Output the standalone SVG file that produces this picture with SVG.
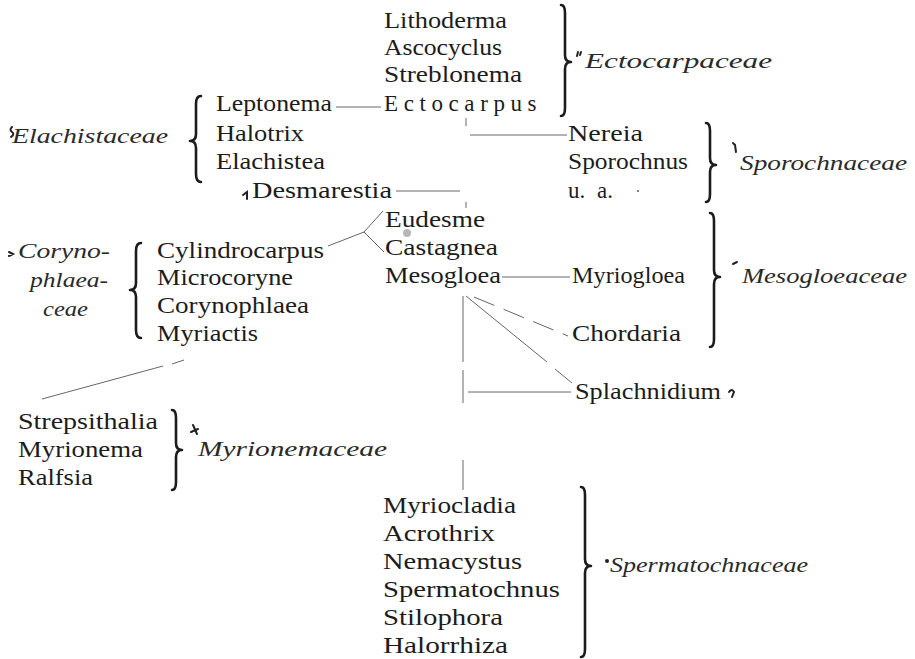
<svg xmlns="http://www.w3.org/2000/svg" width="915" height="659" viewBox="0 0 915 659">
<style>
.g{font-family:"Liberation Serif","Times New Roman",serif;font-size:23px;fill:#1c1c1c}
.f{font-family:"Liberation Serif","Times New Roman",serif;font-size:22px;font-style:italic;fill:#2a2a2a}
.br{fill:none;stroke:#1c1c1c;stroke-width:2.6;stroke-linecap:round;stroke-linejoin:round}
.c{fill:none;stroke:#666;stroke-width:1}
.m{fill:none;stroke:#222;stroke-width:2;stroke-linecap:round}
</style>
<rect width="915" height="659" fill="#fff"/>
<g id="connectors">
<line class="c" x1="336" y1="107" x2="381" y2="107"/>
<line class="c" x1="466" y1="118" x2="466" y2="126"/>
<line class="c" x1="470" y1="135" x2="567" y2="135"/>
<line class="c" x1="396" y1="191" x2="460" y2="191"/>
<line class="c" x1="466" y1="202" x2="466" y2="208"/>
<polyline class="c" points="328,246 364,232 383,211"/>
<line class="c" x1="364" y1="232" x2="384" y2="252"/>
<line class="c" x1="502" y1="277" x2="570" y2="277"/>
<line class="c" x1="463" y1="296" x2="463" y2="362"/>
<line class="c" x1="463" y1="370" x2="463" y2="403"/>
<line class="c" x1="468" y1="392" x2="571" y2="392"/>
<line class="c" x1="466" y1="296" x2="547" y2="362"/>
<line class="c" x1="555" y1="369" x2="572" y2="383"/>
<line class="c" x1="474" y1="297" x2="568" y2="336" stroke-dasharray="22 10"/>
<line class="c" x1="463" y1="460" x2="463" y2="490"/>
<line class="c" x1="184" y1="360" x2="172" y2="364"/>
<line class="c" x1="163" y1="366" x2="42" y2="399"/>
</g>
<g id="ectocarpaceae">
<path class="br" d="M561,5 Q565,5 565,13 L565,55 Q565,62 571,62 Q565,62 565,69 L565,108 Q565,116 561,116"/>
<text class="f" x="585" y="68" textLength="187" lengthAdjust="spacingAndGlyphs">Ectocarpaceae</text>
<g id="lithoderma"><text class="g" x="384" y="28" textLength="123" lengthAdjust="spacingAndGlyphs">Lithoderma</text></g>
<g id="ascocyclus"><text class="g" x="384" y="55" textLength="118" lengthAdjust="spacingAndGlyphs">Ascocyclus</text></g>
<g id="streblonema"><text class="g" x="384" y="82" textLength="138" lengthAdjust="spacingAndGlyphs">Streblonema</text></g>
<g id="ectocarpus"><text class="g" x="384" y="111" letter-spacing="5.6">Ectocarpus</text></g>
</g>
<g id="elachistaceae">
<path class="br" d="M201,96 Q196,96 196,104 L196,134 Q196,141 190,141 Q196,141 196,148 L196,174 Q196,182 201,182"/>
<text class="f" x="12" y="143" textLength="156" lengthAdjust="spacingAndGlyphs">Elachistaceae</text>
<g id="leptonema"><text class="g" x="216" y="111" textLength="116" lengthAdjust="spacingAndGlyphs">Leptonema</text></g>
<g id="halotrix"><text class="g" x="216" y="141" textLength="88" lengthAdjust="spacingAndGlyphs">Halotrix</text></g>
<g id="elachistea"><text class="g" x="216" y="169" textLength="109" lengthAdjust="spacingAndGlyphs">Elachistea</text></g>
</g>
<g id="desmarestia"><text class="g" x="252" y="198" textLength="140" lengthAdjust="spacingAndGlyphs">Desmarestia</text></g>
<g id="sporochnaceae">
<path class="br" d="M706,123 Q710,123 710,131 L710,158 Q710,165 716,165 Q710,165 710,172 L710,194 Q710,202 706,202"/>
<text class="f" x="740" y="170" textLength="167" lengthAdjust="spacingAndGlyphs">Sporochnaceae</text>
<g id="nereia"><text class="g" x="568" y="141" textLength="75" lengthAdjust="spacingAndGlyphs">Nereia</text></g>
<g id="sporochnus"><text class="g" x="568" y="169" textLength="120" lengthAdjust="spacingAndGlyphs">Sporochnus</text></g>
<g id="ua"><text class="g" y="198"><tspan x="568">u.</tspan><tspan x="597">a.</tspan></text><circle cx="638" cy="191" r="1" fill="#555"/></g>
</g>
<g id="mesogloeaceae">
<path class="br" d="M710,213 Q714,213 714,221 L714,270 Q714,277 720,277 Q714,277 714,284 L714,339 Q714,347 710,347"/>
<text class="f" x="742" y="283" textLength="165" lengthAdjust="spacingAndGlyphs">Mesogloeaceae</text>
<g id="eudesme"><text class="g" x="385" y="227" textLength="100" lengthAdjust="spacingAndGlyphs">Eudesme</text><circle cx="407" cy="233" r="4" fill="#999" opacity="0.7"/></g>
<g id="castagnea"><text class="g" x="385" y="255" textLength="113" lengthAdjust="spacingAndGlyphs">Castagnea</text></g>
<g id="mesogloea"><text class="g" x="385" y="283" textLength="116" lengthAdjust="spacingAndGlyphs">Mesogloea</text></g>
<g id="myriogloea"><text class="g" x="572" y="283" textLength="113" lengthAdjust="spacingAndGlyphs">Myriogloea</text></g>
<g id="chordaria"><text class="g" x="572" y="341" textLength="109" lengthAdjust="spacingAndGlyphs">Chordaria</text></g>
</g>
<g id="splachnidium"><text class="g" x="575" y="399" textLength="146" lengthAdjust="spacingAndGlyphs">Splachnidium</text></g>
<g id="corynophlaeaceae">
<path class="br" d="M141,243 Q136,243 136,251 L136,283 Q136,290 130,290 Q136,290 136,297 L136,330 Q136,338 141,338"/>
<text class="f" x="18" y="258" textLength="92" lengthAdjust="spacingAndGlyphs">Coryno-</text>
<text class="f" x="30" y="287" textLength="78" lengthAdjust="spacingAndGlyphs">phlaea-</text>
<text class="f" x="43" y="316" textLength="45" lengthAdjust="spacingAndGlyphs">ceae</text>
<g id="cylindrocarpus"><text class="g" x="157" y="258" textLength="167" lengthAdjust="spacingAndGlyphs">Cylindrocarpus</text></g>
<g id="microcoryne"><text class="g" x="157" y="285" textLength="136" lengthAdjust="spacingAndGlyphs">Microcoryne</text></g>
<g id="corynophlaea"><text class="g" x="157" y="313" textLength="152" lengthAdjust="spacingAndGlyphs">Corynophlaea</text></g>
<g id="myriactis"><text class="g" x="157" y="341" textLength="101" lengthAdjust="spacingAndGlyphs">Myriactis</text></g>
</g>
<g id="myrionemaceae">
<path class="br" d="M172,410 Q176,410 176,418 L176,443 Q176,450 182,450 Q176,450 176,457 L176,482 Q176,490 172,490"/>
<text class="f" x="198" y="456" textLength="189" lengthAdjust="spacingAndGlyphs">Myrionemaceae</text>
<g id="strepsithalia"><text class="g" x="18" y="429" textLength="140" lengthAdjust="spacingAndGlyphs">Strepsithalia</text></g>
<g id="myrionema"><text class="g" x="18" y="457" textLength="125" lengthAdjust="spacingAndGlyphs">Myrionema</text></g>
<g id="ralfsia"><text class="g" x="18" y="485" textLength="75" lengthAdjust="spacingAndGlyphs">Ralfsia</text></g>
</g>
<g id="spermatochnaceae">
<path class="br" d="M581,487 Q585,487 585,495 L585,559 Q585,566 591,566 Q585,566 585,573 L585,649 Q585,657 581,657"/>
<text class="f" x="610" y="572" textLength="198" lengthAdjust="spacingAndGlyphs">Spermatochnaceae</text>
<g id="myriocladia"><text class="g" x="383" y="513" textLength="133" lengthAdjust="spacingAndGlyphs">Myriocladia</text></g>
<g id="acrothrix"><text class="g" x="383" y="541" textLength="112" lengthAdjust="spacingAndGlyphs">Acrothrix</text></g>
<g id="nemacystus"><text class="g" x="383" y="569" textLength="139" lengthAdjust="spacingAndGlyphs">Nemacystus</text></g>
<g id="spermatochnus"><text class="g" x="383" y="597" textLength="177" lengthAdjust="spacingAndGlyphs">Spermatochnus</text></g>
<g id="stilophora"><text class="g" x="383" y="625" textLength="120" lengthAdjust="spacingAndGlyphs">Stilophora</text></g>
<g id="halorrhiza"><text class="g" x="383" y="653" textLength="125" lengthAdjust="spacingAndGlyphs">Halorrhiza</text></g>
</g>
<g id="marks">
<path class="m" d="M577,56 l1,-4 M580,55 l1,-3"/>
<path class="m" d="M12,127 q-3,3 0,5 q3,2 -1,5"/>
<path class="m" d="M243,195 l4,-3 l0,7"/>
<path class="m" d="M733,143 l2,2 l1,7"/>
<path class="m" d="M733,264 l4,-2"/>
<path class="m" d="M9,252 l4,2 l-4,2"/>
<path class="m" d="M729,392 q3,-4 5,0 l-2,5"/>
<path class="m" d="M193,425 l4,9 M191,432 l7,-3"/>
<circle cx="607" cy="561" r="2" fill="#222"/>
</g>
</svg>
